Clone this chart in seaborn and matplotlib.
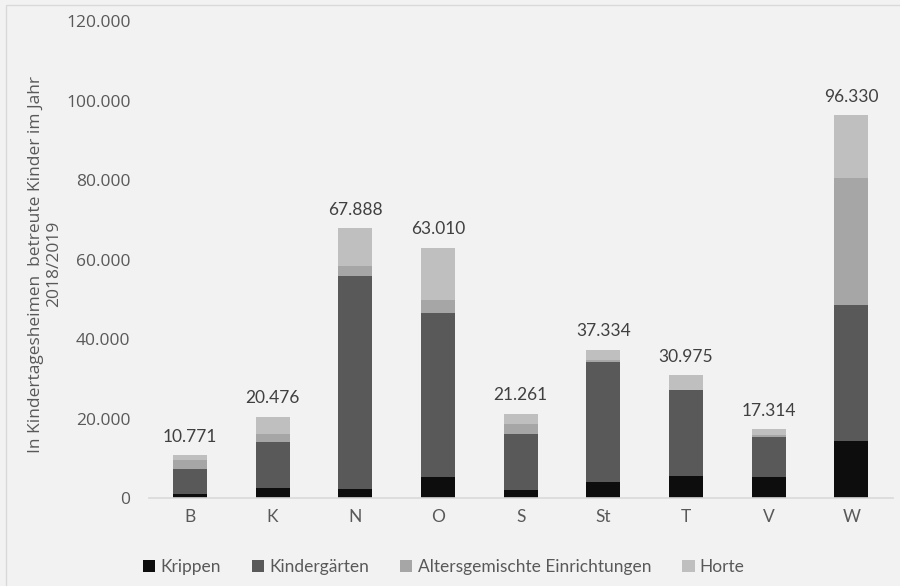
import matplotlib
matplotlib.use("Agg")
import matplotlib.pyplot as plt
from matplotlib.patches import Patch, Rectangle
import numpy as np
import pandas as pd
import seaborn as sns

regions = ["B", "K", "N", "O", "S", "St", "T", "V", "W"]
totals = [10771, 20476, 67888, 63010, 21261, 37334, 30975, 17314, 96330]

krippen = [1000, 2600, 2200, 5430, 2000, 4000, 5600, 5300, 14470]
kindergaerten = [6400, 11550, 53650, 41200, 14230, 30200, 21600, 10000, 34100]
altersgemischt = [2200, 2000, 2520, 3270, 2500, 600, 100, 500, 31900]
# Horte = rest up to the total
horte = [t - a - b - c for t, a, b, c in zip(totals, krippen, kindergaerten, altersgemischt)]

series = ["Krippen", "Kindergärten", "Altersgemischte Einrichtungen", "Horte"]
colors = ["#0d0d0d", "#595959", "#a6a6a6", "#bfbfbf"]

df = pd.DataFrame({
    "Region": regions,
    "Krippen": krippen,
    "Kindergärten": kindergaerten,
    "Altersgemischte Einrichtungen": altersgemischt,
    "Horte": horte,
})
cum = df[series].cumsum(axis=1)
cum["Region"] = regions

sns.set_style("white")
plt.rcParams["font.family"] = ["Lato", "DejaVu Sans"]

bg = "#f2f2f2"
fig = plt.figure(figsize=(9, 5.86), dpi=100, facecolor=bg)
ax = fig.add_axes([0.165, 0.150, 0.827, 0.814])
ax.set_facecolor(bg)

# stacked bars: draw cumulative heights from top layer down
for name, col in reversed(list(zip(series, colors))):
    sns.barplot(data=cum, x="Region", y=name, color=col, width=0.41,
                saturation=1, linewidth=0, ax=ax)

for i, t in enumerate(totals):
    ax.text(i, t + 2600, f"{t:,}".replace(",", "."), ha="center", va="bottom",
            fontsize=12.5, color="#404040")

ax.set_ylim(0, 120000)
ax.set_xlim(-0.5, len(regions) - 0.5)
ax.set_yticks(np.arange(0, 120001, 20000))
ax.set_yticklabels([f"{v:,}".replace(",", ".") for v in range(0, 120001, 20000)],
                   family="Open Sans", fontsize=12.5)
ax.tick_params(axis="both", length=0, labelsize=12.5, labelcolor="#595959")
ax.tick_params(axis="y", pad=13)
ax.tick_params(axis="x", pad=8)
ax.set_xlabel("")
ax.set_ylabel("In Kindertagesheimen  betreute Kinder im Jahr\n2018/2019",
              fontsize=12.5, color="#595959", multialignment="center",
              family="Open Sans")
ax.yaxis.set_label_coords(-0.116, 0.49)

for s in ["top", "right", "left"]:
    ax.spines[s].set_visible(False)
ax.spines["bottom"].set_color("#d9d9d9")
ax.spines["bottom"].set_linewidth(1.2)

handles = [Patch(facecolor=c, edgecolor="none", label=s) for s, c in zip(series, colors)]
fig.legend(handles=handles, loc="center", bbox_to_anchor=(0.493, 0.032), ncol=4,
           frameon=False, fontsize=12.5, handlelength=0.7, handleheight=0.7,
           handletextpad=0.3, columnspacing=1.8, labelcolor="#595959")

fig.add_artist(Rectangle((6 / 900, -0.1), 1.2, 1 - 5 / 586 + 0.1, transform=fig.transFigure,
                         fill=False, edgecolor="#d9d9d9", linewidth=1))

fig.savefig("out.png", dpi=100, facecolor=bg)
